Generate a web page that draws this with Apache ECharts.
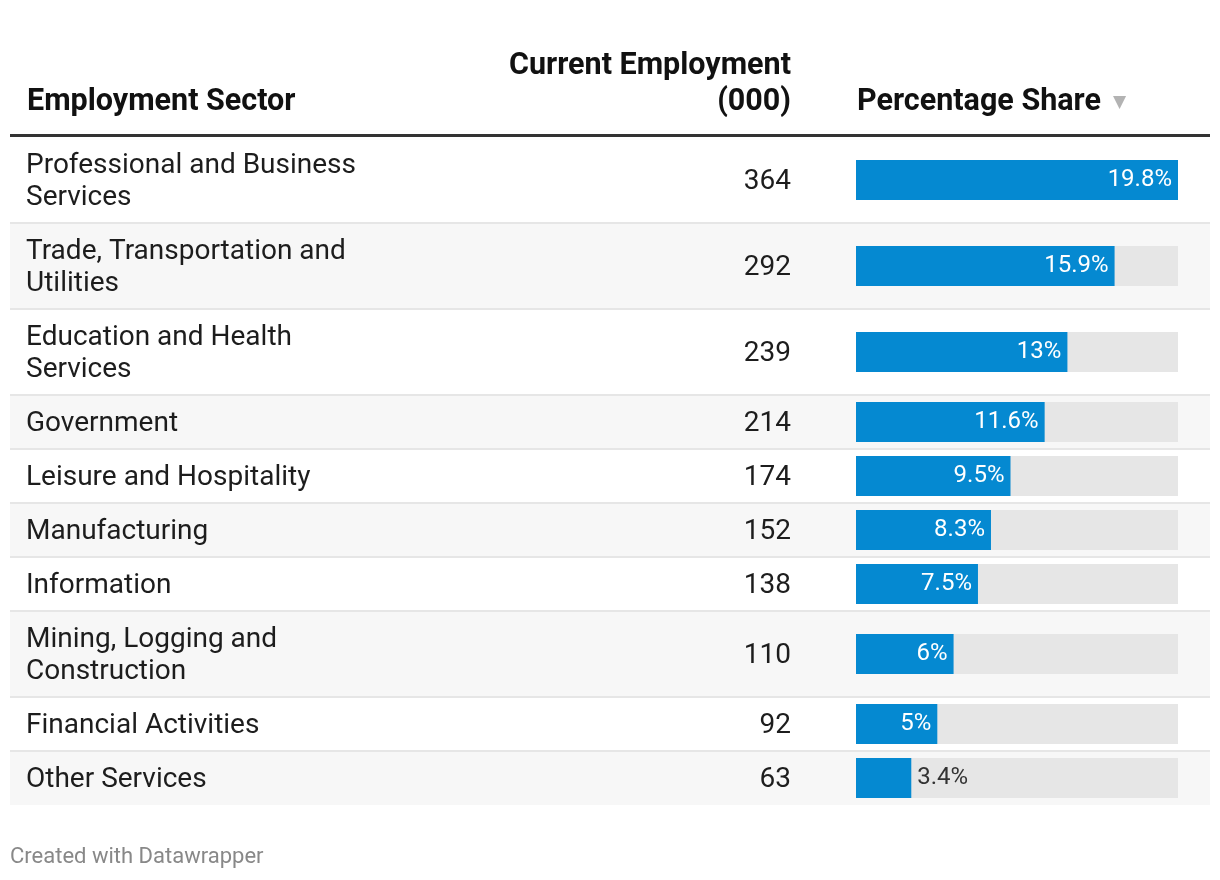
<!DOCTYPE html>
<html><head><meta charset="utf-8">
<script src="https://cdn.jsdelivr.net/npm/echarts@6/dist/echarts.min.js"></script>
<style>html,body{margin:0;padding:0;background:#fff}#c{width:1220px;height:880px}</style>
</head><body><div id="c"></div><script>
// ---- data ----
const sectors = [
  'Professional and Business Services',
  'Trade, Transportation and Utilities',
  'Education and Health Services',
  'Government',
  'Leisure and Hospitality',
  'Manufacturing',
  'Information',
  'Mining, Logging and Construction',
  'Financial Activities',
  'Other Services'
];
const employment = [364, 292, 239, 214, 174, 152, 138, 110, 92, 63];
const shares = [19.8, 15.9, 13, 11.6, 9.5, 8.3, 7.5, 6, 5, 3.4];
const headers = ['Employment Sector', 'Current Employment\n(000)', 'Percentage Share'];
const footer = 'Created with Datawrapper';

// ---- layout ----
const FONT = 'Roboto, "Noto Sans", sans-serif';
const ctx = document.createElement('canvas').getContext('2d');
function measure(t, size, weight) { ctx.font = (weight || 'normal') + ' ' + size + 'px Roboto'; return ctx.measureText(t).width; }
function wrap(t, w, size) {
  const words = t.split(' '); const lines = []; let cur = '';
  words.forEach(wd => { const test = cur ? cur + ' ' + wd : wd; if (cur && measure(test, size) > w) { lines.push(cur); cur = wd; } else cur = test; });
  if (cur) lines.push(cur); return lines;
}
const BODY = 28, LABEL = 24, HEAD = 30.5;
const tableLeft = 10, tableRight = 1210, textLeft = 27, numRight = 791;
const barLeft = 856, barW = 322, barH = 40;
const maxShare = Math.max(...shares);

const grids = [], xAxes = [], yAxes = [], series = [], graphics = [];
let y = 137;
sectors.forEach((name, i) => {
  const lines = wrap(name, 345, BODY);
  const h = lines.length > 1 ? 86 : 54;
  const cy = y + h / 2;
  if (i % 2 === 1) graphics.push({ type: 'rect', z: 0, shape: { x: tableLeft, y: y, width: tableRight - tableLeft, height: h }, style: { fill: '#f7f7f7' }, silent: true });
  if (i > 0) graphics.push({ type: 'rect', z: 1, shape: { x: tableLeft, y: y - 1, width: tableRight - tableLeft, height: 2 }, style: { fill: '#e6e6e6' }, silent: true });
  graphics.push({ type: 'text', z: 5, x: textLeft - 1, y: cy + 2, style: { text: lines.join('\n'), font: BODY + 'px ' + FONT, fill: '#1d1d1d', align: 'left', verticalAlign: 'middle', lineHeight: 32 }, silent: true });
  graphics.push({ type: 'text', z: 5, x: numRight, y: cy + 2, style: { text: String(employment[i]), font: BODY + 'px ' + FONT, fill: '#1d1d1d', align: 'right', verticalAlign: 'middle' }, silent: true });

  grids.push({ left: barLeft, width: barW, top: cy - barH / 2, height: barH, containLabel: false });
  xAxes.push({ gridIndex: i, type: 'value', min: 0, max: maxShare, show: false });
  yAxes.push({ gridIndex: i, type: 'category', data: [name], show: false });
  const txt = shares[i] + '%';
  const inside = shares[i] / maxShare * barW >= measure(txt, LABEL) + 12;
  series.push({
    type: 'bar', xAxisIndex: i, yAxisIndex: i, barWidth: barH, silent: true,
    showBackground: true, backgroundStyle: { color: '#e6e6e6' },
    itemStyle: { color: '#0589d1' },
    data: [shares[i]],
    label: { show: true, position: inside ? 'insideRight' : 'right', distance: 6, color: inside ? '#ffffff' : '#333333', fontSize: LABEL, fontFamily: FONT, formatter: p => p.value + '%' }
  });
  y += h;
});

// header
graphics.push({ type: 'text', z: 5, x: textLeft, y: 102, style: { text: headers[0], font: 'bold ' + HEAD + 'px ' + FONT, fill: '#111', align: 'left', verticalAlign: 'middle' }, silent: true });
graphics.push({ type: 'text', z: 5, x: numRight, y: 84, style: { text: headers[1], font: 'bold ' + HEAD + 'px ' + FONT, fill: '#111', align: 'right', verticalAlign: 'middle', lineHeight: 36 }, silent: true });
graphics.push({ type: 'text', z: 5, x: 857, y: 102, style: { text: headers[2], font: 'bold ' + HEAD + 'px ' + FONT, fill: '#111', align: 'left', verticalAlign: 'middle' }, silent: true });
graphics.push({ type: 'text', z: 5, x: 857 + measure(headers[2], HEAD, 'bold') + 12, y: 103, style: { text: '▼', font: '17px "DejaVu Sans", sans-serif', fill: '#b3b3b3', align: 'left', verticalAlign: 'middle' }, silent: true });
graphics.push({ type: 'rect', z: 2, shape: { x: tableLeft, y: 134, width: tableRight - tableLeft, height: 3 }, style: { fill: '#333333' }, silent: true });
// footer
graphics.push({ type: 'text', z: 5, x: 10, y: 857, style: { text: footer, font: '22px ' + FONT, fill: '#888888', align: 'left', verticalAlign: 'middle' }, silent: true });

const chart = echarts.init(document.getElementById('c'), null, { renderer: 'canvas' });
chart.setOption({
  animation: false,
  backgroundColor: '#ffffff',
  grid: grids, xAxis: xAxes, yAxis: yAxes, series: series, graphic: graphics
});
</script></body></html>
